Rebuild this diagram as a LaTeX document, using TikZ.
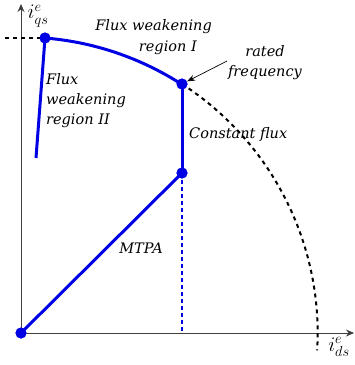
\documentclass[tikz,border=0pt]{standalone}
\usepackage{fontspec}
\setmainfont{DejaVu Serif}
\usetikzlibrary{arrows.meta}
\begin{document}
\begin{tikzpicture}[x=1pt,y=-1pt,
  lbl/.style={font=\itshape\fontsize{14.5}{20}\selectfont, inner sep=0pt},
  mlbl/.style={font=\fontsize{22}{24}\selectfont, inner sep=0pt},
  blueline/.style={draw=blue!90!black, line width=3pt},
  dot/.style={circle, fill=blue!90!black, inner sep=0pt, minimum size=11pt},
  axis/.style={draw=black!75, line width=0.9pt, -{Stealth[length=8pt,width=7pt]}},
  blk/.style={draw=black, line width=2pt, dash pattern=on 4pt off 4pt}]
\useasboundingbox (0,0) rectangle (355,365);
\coordinate (O) at (21,333);
\coordinate (ytop) at (21,4);
\coordinate (xend) at (354,333);
\coordinate (dl) at (5,38);
\coordinate (r2end) at (36,158);
\coordinate (xfoot) at (182,333);
\draw[axis] (O) -- (ytop);
\draw[axis] (O) -- (xend);
\node[dot] (A) at (45,38) {};
\node[dot] (B) at (182,84) {};
\node[dot] (C) at (182,173) {};
\node[dot] (D) at (O) {};
% dashed horizontal
\draw[blk] (dl) -- (A.center);
% dashed circle continuation
\draw[blk] (B.center) arc[start angle=-57.1, end angle=3.3, radius=297];
% blue dashed vertical
\draw[draw=blue!90!black, line width=1.2pt, dash pattern=on 4pt off 3pt] (C.center) -- (xfoot);
% flux weakening I arc
\draw[blueline] (A.center) arc[start angle=-85.35, end angle=-57.1, radius=297];
\draw[blueline] (A.center) -- (r2end);
\draw[blueline] (B.center) -- (C.center);
\draw[blueline] (D.center) -- (C.center);
\node[dot] at (A) {};
\node[dot] at (B) {};
\node[dot] at (C) {};
\node[dot] at (D) {};
% labels
\node[lbl, anchor=east] (fw1a) at (212,27) {Flux weakening};
\node[lbl, anchor=east] (fw1b) at (197,48) {region I};
\node[lbl, anchor=north west, align=left] (fw2) at (46,73) {Flux\\weakening\\region II};
\node[lbl, align=center] (rf) at (265,63) {rated\\frequency};
\coordinate (rfa) at (227,61);
\draw[-{Stealth[length=8pt,width=6pt]}, line width=0.7pt] (rfa) -- (B);
\node[lbl, anchor=west] (cf) at (189,134) {Constant flux};
\node[lbl] (mtpa) at (141,248) {MTPA};
\node[mlbl] (iq) at (38,16) {$i^e_{qs}$};
\node[mlbl] (id) at (339,347) {$i^e_{ds}$};
\end{tikzpicture}
\end{document}
